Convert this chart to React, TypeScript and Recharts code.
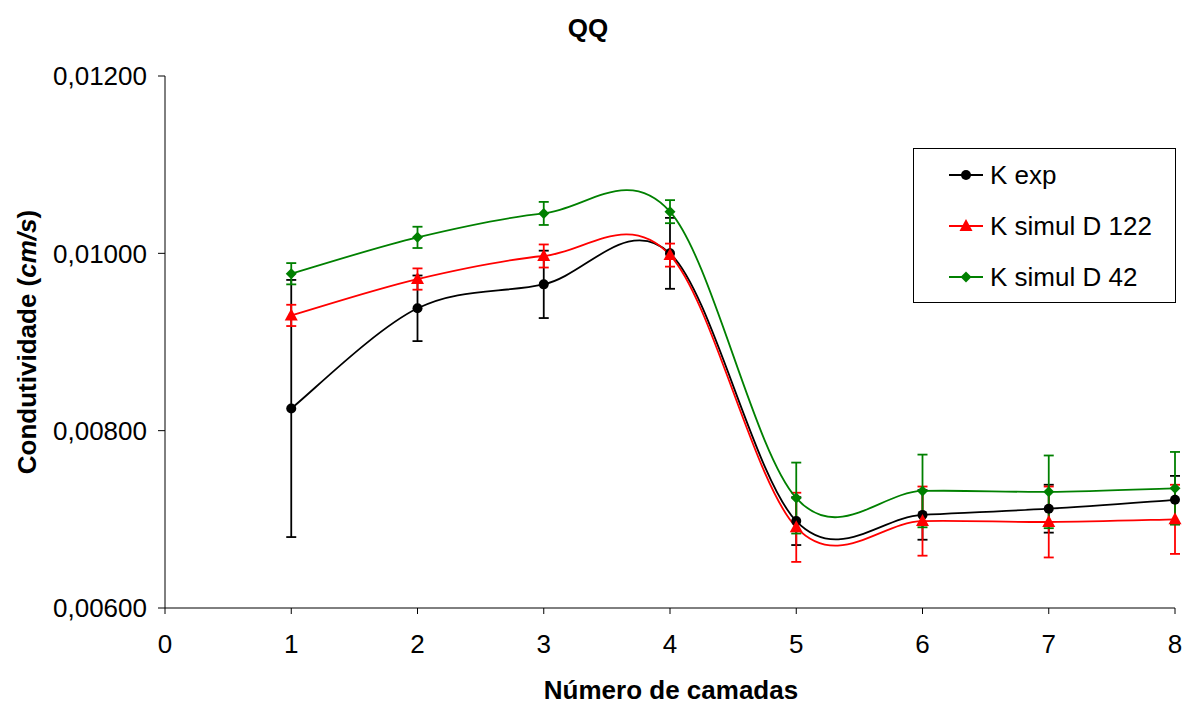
import React from 'react';
import { LineChart, Line, XAxis, YAxis, ErrorBar } from 'recharts';

// Number of layers and measured / simulated hydraulic conductivity (cm/s)
const camadas = [1, 2, 3, 4, 5, 6, 7, 8];
const kExp = [0.00825, 0.00938, 0.00965, 0.01000, 0.00698, 0.00705, 0.00712, 0.00722];
const kExpErr = [0.00145, 0.00037, 0.00038, 0.00040, 0.00027, 0.00028, 0.00027, 0.00027];
const kD122 = [0.00930, 0.00971, 0.00997, 0.00998, 0.00691, 0.00698, 0.00697, 0.00700];
const kD122Err = [0.00012, 0.00012, 0.00013, 0.00013, 0.00039, 0.00039, 0.00040, 0.00039];
const kD42 = [0.00977, 0.01018, 0.01045, 0.01047, 0.00724, 0.00732, 0.00731, 0.00735];
const kD42Err = [0.00012, 0.00012, 0.00013, 0.00013, 0.00040, 0.00041, 0.00041, 0.00041];

const xTicks = [0, 1, 2, 3, 4, 5, 6, 7, 8];
const yTicks = [0.006, 0.008, 0.010, 0.012];

const seriesNames = ['K exp', 'K simul D 122', 'K simul D 42'];

const data = camadas.map((x, i) => ({
  x,
  exp: kExp[i],
  expErr: kExpErr[i],
  d122: kD122[i],
  d122Err: kD122Err[i],
  d42: kD42[i],
  d42Err: kD42Err[i],
}));

const FONT = 'Arial, "Liberation Sans", sans-serif';
const GREEN = '#008000';
const RED = '#ff0000';

// Smoothed line: Catmull-Rom style Bezier segments (control points at 1/6 of neighbour span)
function smoothCurve(context: any) {
  let pts: number[][] = [];
  return {
    areaStart() {},
    areaEnd() {},
    lineStart() {
      pts = [];
    },
    point(x: number, y: number) {
      pts.push([+x, +y]);
    },
    lineEnd() {
      const n = pts.length;
      if (!n) return;
      context.moveTo(pts[0][0], pts[0][1]);
      for (let i = 0; i < n - 1; i++) {
        const p0 = pts[Math.max(i - 1, 0)];
        const p1 = pts[i];
        const p2 = pts[i + 1];
        const p3 = pts[Math.min(i + 2, n - 1)];
        context.bezierCurveTo(
          p1[0] + (p2[0] - p0[0]) / 6,
          p1[1] + (p2[1] - p0[1]) / 6,
          p2[0] - (p3[0] - p1[0]) / 6,
          p2[1] - (p3[1] - p1[1]) / 6,
          p2[0],
          p2[1]
        );
      }
    },
  };
}

const CircleMark = ({ cx, cy }: any) => <circle cx={cx} cy={cy} r={5} fill="#000" />;
const TriangleMark = ({ cx, cy }: any) => (
  <polygon points={`${cx},${cy - 7} ${cx + 6.5},${cy + 5} ${cx - 6.5},${cy + 5}`} fill={RED} />
);
const DiamondMark = ({ cx, cy }: any) => (
  <polygon points={`${cx},${cy - 5.5} ${cx + 5.5},${cy} ${cx},${cy + 5.5} ${cx - 5.5},${cy}`} fill={GREEN} />
);

const fmtY = (v: number) => v.toFixed(5).replace('.', ',');

// Legend box drawn inside the chart's SVG
const LegendBox = ({ x, y }: { x: number; y: number }) => {
  const rows = [
    { name: seriesNames[0], color: '#000', mark: (cx: number, cy: number) => <CircleMark cx={cx} cy={cy} /> },
    { name: seriesNames[1], color: RED, mark: (cx: number, cy: number) => <TriangleMark cx={cx} cy={cy} /> },
    { name: seriesNames[2], color: GREEN, mark: (cx: number, cy: number) => <DiamondMark cx={cx} cy={cy} /> },
  ];
  return (
    <g transform={`translate(${x},${y})`}>
      <rect x={0.5} y={0.5} width={262} height={154} fill="#fff" stroke="#000" strokeWidth={1} />
      {rows.map((r, i) => {
        const cy = 27 + i * 51;
        return (
          <g key={r.name}>
            <line x1={36} x2={70} y1={cy} y2={cy} stroke={r.color} strokeWidth={2} />
            {r.mark(53, cy)}
            <text x={77} y={cy + 9} fontFamily={FONT} fontSize={26} fill="#000">
              {r.name}
            </text>
          </g>
        );
      })}
    </g>
  );
};

export default function App() {
  return (
    <div style={{ position: 'absolute', left: 0, top: 0, width: 1189, height: 707, background: '#fff' }}>
      <LineChart width={1189} height={707} data={data} margin={{ top: 76, right: 14, bottom: 0, left: 0 }}>
        <text x={588} y={37} textAnchor="middle" fontFamily={FONT} fontSize={26} fontWeight="bold" fill="#000">
          QQ
        </text>
        <XAxis
          type="number"
          dataKey="x"
          domain={[0, 8]}
          ticks={xTicks}
          interval={0}
          height={99}
          stroke="#000"
          tickSize={6}
          tickMargin={21}
          tick={{ fill: '#000', fontFamily: FONT, fontSize: 26 }}
          label={{
            content: () => (
              <text x={671} y={699} textAnchor="middle" fontFamily={FONT} fontSize={26} fontWeight="bold" fill="#000">
                Número de camadas
              </text>
            ),
          }}
        />
        <YAxis
          type="number"
          domain={[0.006, 0.012]}
          ticks={yTicks}
          interval={0}
          width={165}
          stroke="#000"
          tickSize={7}
          tickMargin={11}
          tickFormatter={fmtY}
          tick={{ fill: '#000', fontFamily: FONT, fontSize: 26 }}
          label={{
            content: () => (
              <text
                x={36}
                y={342}
                transform="rotate(-90 36 342)"
                textAnchor="middle"
                fontFamily={FONT}
                fontSize={26}
                fontWeight="bold"
                fill="#000"
              >
                Condutividade (<tspan fontStyle="italic">cm/s</tspan>)
              </text>
            ),
          }}
        />
        <Line
          dataKey="exp"
          name={seriesNames[0]}
          type={smoothCurve as any}
          stroke="#000"
          strokeWidth={1.8}
          dot={<CircleMark />}
          activeDot={false}
          isAnimationActive={false}
        >
          <ErrorBar dataKey="expErr" direction="y" width={5} stroke="#000" strokeWidth={1.8} />
        </Line>
        <Line
          dataKey="d122"
          name={seriesNames[1]}
          type={smoothCurve as any}
          stroke={RED}
          strokeWidth={1.8}
          dot={<TriangleMark />}
          activeDot={false}
          isAnimationActive={false}
        >
          <ErrorBar dataKey="d122Err" direction="y" width={5} stroke={RED} strokeWidth={1.8} />
        </Line>
        <Line
          dataKey="d42"
          name={seriesNames[2]}
          type={smoothCurve as any}
          stroke={GREEN}
          strokeWidth={1.8}
          dot={<DiamondMark />}
          activeDot={false}
          isAnimationActive={false}
        >
          <ErrorBar dataKey="d42Err" direction="y" width={5} stroke={GREEN} strokeWidth={1.8} />
        </Line>
        <LegendBox x={913} y={148} />
      </LineChart>
    </div>
  );
}
